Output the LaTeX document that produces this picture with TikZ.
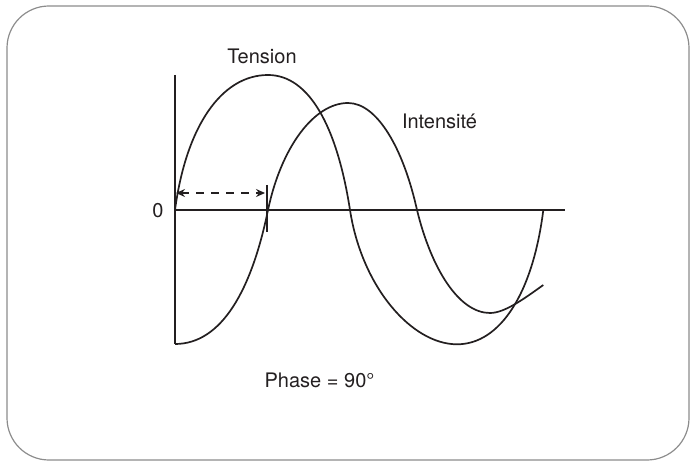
\documentclass[tikz,border=0pt]{standalone}
\usepackage{fontspec}
\setmainfont{TeX Gyre Heros}
\usetikzlibrary{arrows.meta}
\definecolor{ink}{HTML}{231F20}
\definecolor{framegray}{HTML}{8C8C8C}
\begin{document}
\begin{tikzpicture}[x=1pt,y=-1pt,
  wave/.style={draw=ink,line width=1.7pt},
  axisline/.style={draw=ink,line width=1.7pt},
  lbl/.style={font=\fontsize{20}{24}\selectfont,text=ink,inner sep=0pt,anchor=base},
  phasearrow/.style={draw=ink,line width=1.5pt,dash pattern=on 8pt off 7pt,
     {Stealth[length=9pt,width=8pt,inset=3pt]}-{Stealth[length=9pt,width=8pt,inset=3pt]}}]
\useasboundingbox (0,0) rectangle (690,462);
\draw[framegray,line width=1.2pt,rounded corners=42pt] (7,6) rectangle (689,460);

% axes
\coordinate (O) at (175,210);
\coordinate (ytop) at (175,75);
\coordinate (ybot) at (175,344);
\coordinate (xend) at (565,210);
\draw[axisline] (ytop) -- (ybot);
\draw[axisline] (O) -- (xend);

% Tension
\draw[wave] (175,210) .. controls (186.2,126.3) and (221.5,75) .. (268,75)
  .. controls (309,75) and (337,126.3) .. (350,210)
  .. controls (362,287.7) and (412.1,344.3) .. (457,344.3)
  .. controls (500.2,344.3) and (532.9,293.1) .. (543.3,210);

% Intensite
\draw[wave] (175,344) .. controls (221.5,344) and (251.5,290.4) .. (268,210)
  .. controls (281,147.9) and (313.8,103) .. (348,103)
  .. controls (377,103) and (403.2,147.9) .. (417,210)
  .. controls (431.6,269.7) and (459.3,313) .. (490,313)
  .. controls (505,313) and (525,298) .. (543.3,285);

% phase marker
\coordinate (tickTop) at (267,185);
\coordinate (tickBot) at (267,232);
\draw[axisline,line width=1.5pt] (tickTop) -- (tickBot);
\coordinate (arrA) at (176,193);
\coordinate (arrB) at (265,193);
\draw[phasearrow] (arrA) -- (arrB);

% labels
\node[lbl] (tension) at (262,64) {Tension};
\node[lbl] (intensite) at (439.5,129) {Intensité};
\node[lbl] (zero) at (158,218) {0};
\node[lbl] (phase) at (319.5,387) {Phase = 90°};
\end{tikzpicture}
\end{document}
